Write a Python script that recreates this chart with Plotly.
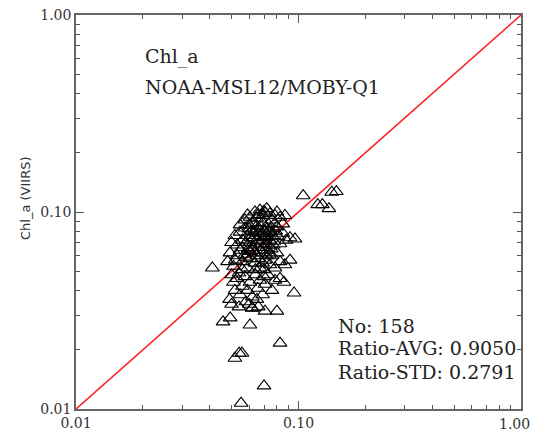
import plotly.graph_objects as go

# ---- data ----
x_insitu = [
    # upper part of cluster
    0.0546, 0.0575, 0.0590, 0.0605, 0.0620, 0.0637, 0.0650, 0.0671, 0.0690, 0.0707,
    0.0720, 0.0744, 0.0760, 0.0784, 0.0800, 0.0826, 0.0850, 0.0869, 0.0650, 0.0690,
    0.0730, 0.0600, 0.0780, 0.0700, 0.0660,
    # middle upper
    0.0500, 0.0518, 0.0530, 0.0546, 0.0560, 0.0575, 0.0590, 0.0605, 0.0615, 0.0630,
    0.0640, 0.0655, 0.0671, 0.0685, 0.0700, 0.0715, 0.0730, 0.0744, 0.0760, 0.0775,
    0.0790, 0.0810, 0.0826, 0.0850, 0.0880, 0.0916, 0.0964, 0.0620, 0.0660, 0.0690,
    0.0740, 0.0560, 0.0600, 0.0800, 0.0720,
    # middle lower
    0.0480, 0.0492, 0.0510, 0.0530, 0.0546, 0.0560, 0.0575, 0.0590, 0.0605, 0.0620,
    0.0637, 0.0650, 0.0671, 0.0690, 0.0707, 0.0725, 0.0744, 0.0760, 0.0784, 0.0800,
    0.0826, 0.0869, 0.0916, 0.0560, 0.0600, 0.0660, 0.0700, 0.0740, 0.0520, 0.0640,
    # lower
    0.0500, 0.0510, 0.0518, 0.0530, 0.0546, 0.0560, 0.0575, 0.0590, 0.0605, 0.0620,
    0.0640, 0.0655, 0.0671, 0.0690, 0.0707, 0.0730, 0.0760, 0.0784, 0.0826, 0.0860,
    0.0490, 0.0580, 0.0650, 0.0700, 0.0540,
    # bottom fringe
    0.0500, 0.0540, 0.0600, 0.0660, 0.0620,
    # outliers
    0.0410, 0.1050, 0.1410, 0.1480, 0.1220, 0.1280, 0.1370,
    0.0605, 0.0826, 0.0518, 0.0541, 0.0557, 0.0700, 0.0552, 0.0458, 0.0493, 0.0707,
    0.0800, 0.0619, 0.0955,
    # dense core
    0.0580, 0.0610, 0.0630, 0.0650, 0.0670, 0.0680, 0.0700, 0.0710, 0.0720, 0.0750,
    0.0770, 0.0595, 0.0635, 0.0675, 0.0715, 0.0755, 0.0580, 0.0690,
]
y_viirs = [
    0.0860, 0.0911, 0.0966, 0.0940, 0.0880, 0.1000, 0.0930, 0.1023, 0.0960, 0.0990,
    0.1040, 0.0980, 0.0910, 0.0960, 0.1000, 0.0940, 0.0870, 0.0960, 0.0850, 0.0880,
    0.0870, 0.0860, 0.0870, 0.1010, 0.0970,
    0.0700, 0.0760, 0.0680, 0.0790, 0.0720, 0.0830, 0.0760, 0.0700, 0.0800, 0.0740,
    0.0680, 0.0820, 0.0760, 0.0710, 0.0800, 0.0740, 0.0680, 0.0820, 0.0760, 0.0710,
    0.0800, 0.0750, 0.0690, 0.0780, 0.0720, 0.0740, 0.0730, 0.0660, 0.0780, 0.0660,
    0.0720, 0.0660, 0.0820, 0.0840, 0.0780,
    0.0560, 0.0620, 0.0530, 0.0600, 0.0640, 0.0560, 0.0610, 0.0520, 0.0580, 0.0640,
    0.0550, 0.0600, 0.0520, 0.0620, 0.0570, 0.0640, 0.0540, 0.0600, 0.0520, 0.0620,
    0.0560, 0.0540, 0.0570, 0.0510, 0.0630, 0.0580, 0.0510, 0.0610, 0.0570, 0.0510,
    0.0480, 0.0440, 0.0400, 0.0460, 0.0380, 0.0420, 0.0470, 0.0400, 0.0440, 0.0370,
    0.0480, 0.0410, 0.0450, 0.0380, 0.0430, 0.0480, 0.0400, 0.0450, 0.0460, 0.0440,
    0.0360, 0.0350, 0.0360, 0.0470, 0.0490,
    0.0340, 0.0330, 0.0340, 0.0330, 0.0325,
    0.0520, 0.1210, 0.1260, 0.1270, 0.1090, 0.1090, 0.1040,
    0.0267, 0.0216, 0.0181, 0.0192, 0.0192, 0.0131, 0.0107, 0.0277, 0.0290, 0.0314,
    0.0314, 0.0326, 0.0388,
    0.0700, 0.0740, 0.0790, 0.0720, 0.0690, 0.0840, 0.0750, 0.0690, 0.0820, 0.0790,
    0.0680, 0.0650, 0.0620, 0.0640, 0.0600, 0.0650, 0.0590, 0.0550,
]
one_to_one = [0.01, 1.0]
major_ticks = [0.01, 0.1, 1.0]
major_labels = ["0.01", "0.10", "1.00"]
minor_ticks = [0.02, 0.03, 0.04, 0.05, 0.06, 0.07, 0.08, 0.09,
               0.2, 0.3, 0.4, 0.5, 0.6, 0.7, 0.8, 0.9]
title_lines = ["Chl_a", "NOAA-MSL12/MOBY-Q1"]
stats_lines = ["No: 158", "Ratio-AVG: 0.9050", "Ratio-STD: 0.2791"]

serif = "DejaVu Serif"
tick_font = dict(family=serif, size=14, color="#333")

fig = go.Figure()
fig.add_trace(go.Scatter(
    x=one_to_one, y=one_to_one, mode="lines",
    line=dict(color="#ff2020", width=1.6), showlegend=False, hoverinfo="skip"))
fig.add_trace(go.Scatter(
    x=x_insitu, y=y_viirs, mode="markers",
    marker=dict(symbol="triangle-up-open", size=12, color="black",
                line=dict(color="black", width=1.1)),
    showlegend=False))

axis_common = dict(
    type="log", range=[-2, 0], tickmode="array", tickvals=major_ticks,
    ticks="inside", ticklen=8, tickcolor="#555",
    showline=True, linecolor="#666", linewidth=1.5, mirror="ticks",
    showgrid=False, zeroline=False,
    tickfont=tick_font,
    minor=dict(tickmode="array", tickvals=minor_ticks, ticks="inside",
               ticklen=4, tickcolor="#555", showgrid=False),
)
# last x label sits at the right edge; drawn as a right-aligned annotation instead
fig.update_xaxes(**axis_common, ticktext=major_labels[:-1] + [""])
fig.update_yaxes(**axis_common, ticktext=major_labels)
fig.add_annotation(x=1, xref="paper", y=0, yref="paper", yshift=-15,
                   text=major_labels[-1], showarrow=False, xanchor="right",
                   xshift=11, yanchor="middle", font=tick_font)

L, R, T, B = 76, 521, 15, 409
annotations = [
    dict(x=143, y=57, text=title_lines[0]),
    dict(x=143, y=87, text=title_lines[1]),
    dict(x=336, y=326, text=stats_lines[0]),
    dict(x=336, y=348, text=stats_lines[1]),
    dict(x=336, y=372, text=stats_lines[2]),
]
for a in annotations:
    fig.add_annotation(
        x=(a["x"] - L) / (R - L), y=(B - a["y"]) / (B - T),
        xref="paper", yref="paper",
        text=a["text"], showarrow=False, xanchor="left", yanchor="middle",
        font=dict(family=serif, size=19, color="#222"))
fig.add_annotation(
    x=(25 - L) / (R - L), y=(B - 198) / (B - T), xref="paper", yref="paper",
    text="Chl_a (VIIRS)", showarrow=False, textangle=-90,
    xanchor="center", yanchor="middle",
    font=dict(family="DejaVu Sans", size=13, color="#333"))

fig.update_layout(
    width=533, height=435,
    margin=dict(l=76, r=12, t=15, b=26, autoexpand=False),
    paper_bgcolor="white", plot_bgcolor="white",
)
fig.write_html("out.html", config={"displayModeBar": False},
               post_script="document.body.style.margin='0';document.body.style.overflow='hidden';")
